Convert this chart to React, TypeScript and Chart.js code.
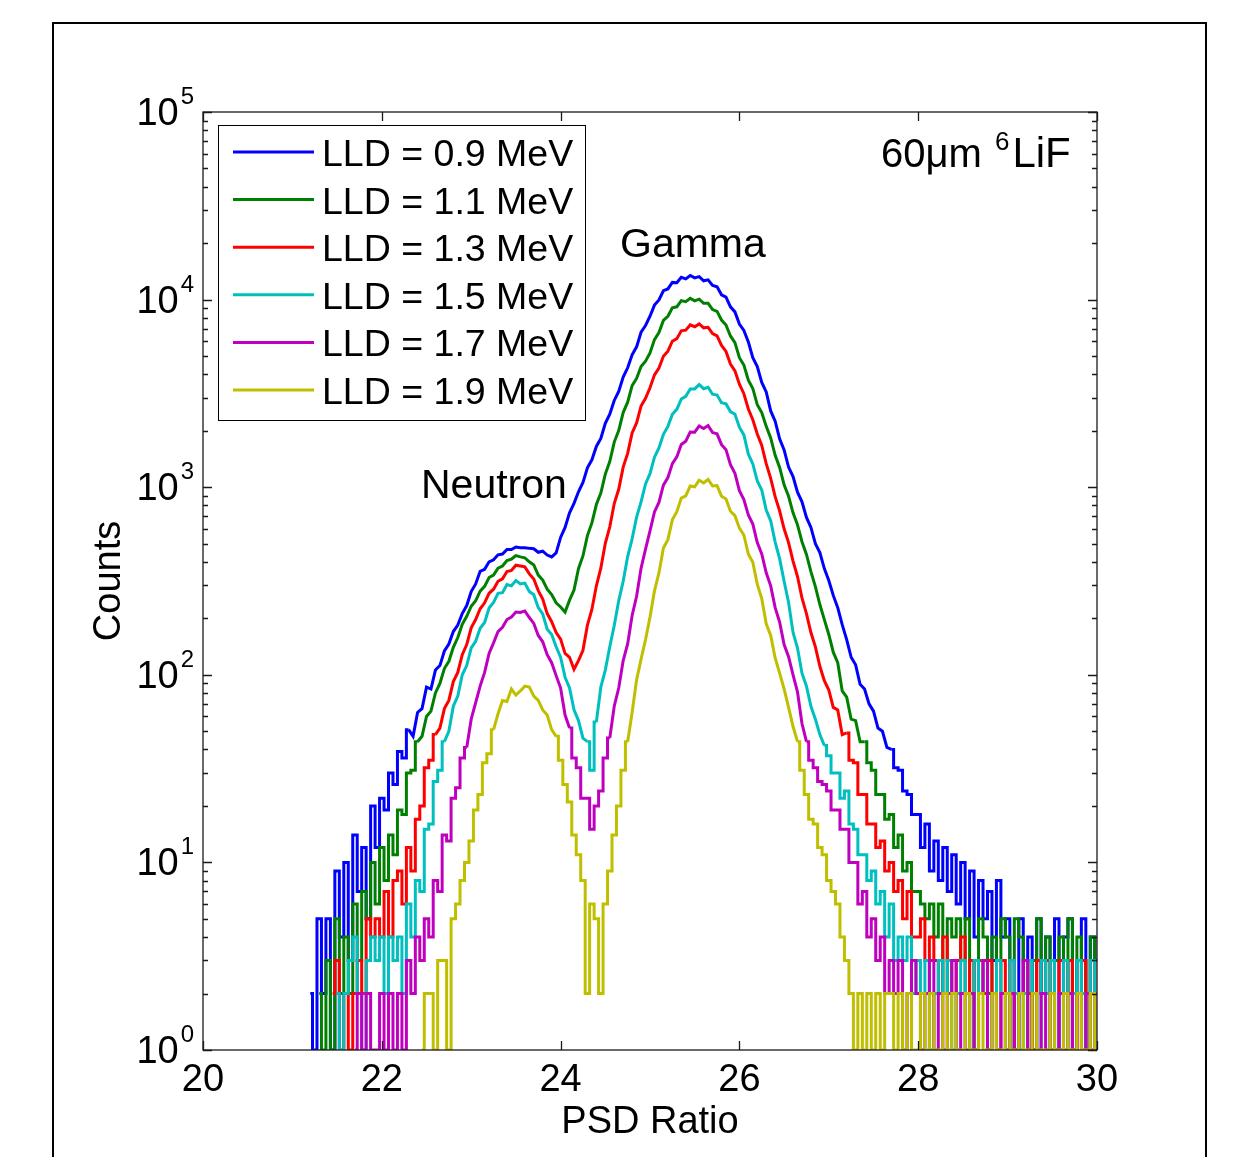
import { useEffect, useRef } from "react";
import { Chart, registerables } from "chart.js";

Chart.register(...registerables);

// ---------------- data ----------------
// histogram bins: centres from 21.00 to 30.00, width 0.05 (one row = one PSD unit)
const BIN_START = 21.0;
const BIN_WIDTH = 0.05;

const SERIES_LABELS = [
  "LLD = 0.9 MeV",
  "LLD = 1.1 MeV",
  "LLD = 1.3 MeV",
  "LLD = 1.5 MeV",
  "LLD = 1.7 MeV",
  "LLD = 1.9 MeV",
];
const SERIES_COLORS = ["#0000FF", "#008000", "#FF0000", "#00BFBF", "#BF00BF", "#BFBF00"];

const X_TICKS = [20, 22, 24, 26, 28, 30];
const Y_TICK_EXPONENTS = [0, 1, 2, 3, 4, 5];
const X_TITLE = "PSD Ratio";
const Y_TITLE = "Counts";
const PEAK_LABELS = ["Gamma", "Neutron"];
const SAMPLE_LABEL = { main: "60\u03bcm ", sup: "6", tail: "LiF" };

const COUNTS_LLD_09 = [
  0, 0, 0, 0, 2, 1, 5, 2, 5, 1, 9, 4, 10, 3, 14, 7, 12, 5, 20, 12,
  22, 19, 30, 26, 39, 36, 51, 47, 63, 66, 86, 84, 106, 112, 134, 146, 170, 184, 212, 234,
  278, 305, 356, 365, 400, 410, 436, 440, 466, 465, 480, 476, 476, 472, 470, 450, 456, 435, 425, 446,
  540, 610, 730, 820, 945, 1060, 1270, 1400, 1650, 1820, 2190, 2450, 2900, 3240, 3860, 4330, 5080, 5600, 6700, 7280,
  8150, 9350, 9950, 11150, 11400, 12350, 12300, 13150, 12900, 13450, 13050, 13250, 12600, 12750, 11900, 11700, 10600, 10300, 9150, 8600,
  7400, 6850, 5950, 4900, 4400, 3620, 3220, 2550, 2250, 1810, 1580, 1280, 1140, 940, 835, 690, 610, 500, 448, 368,
  318, 265, 228, 185, 154, 124, 113, 89, 84, 70, 64, 52, 50, 41, 40, 32, 31, 24, 23, 18,
  18, 12, 16, 9, 13, 8, 12, 7, 11, 6, 10, 5, 9, 4, 8, 5, 7, 3, 8, 4,
  5, 3, 1, 5, 2, 4, 1, 5, 2, 4, 3, 5, 1, 4, 5, 2, 3, 5, 1, 4,
  3,
];
const COUNTS_LLD_11 = [
  0, 0, 0, 0, 0, 0, 2, 1, 3, 1, 5, 2, 4, 2, 6, 3, 7, 5, 10, 6,
  12, 8, 14, 11, 19, 18, 30, 31, 44, 47, 60, 64, 80, 90, 108, 118, 140, 158, 186, 205,
  232, 248, 279, 296, 330, 340, 370, 380, 406, 414, 432, 425, 420, 400, 385, 340, 320, 286, 268, 242,
  230, 216, 250, 283, 368, 430, 552, 645, 808, 930, 1175, 1370, 1740, 2005, 2500, 2840, 3480, 3800, 4400, 4700,
  5200, 6120, 6680, 7750, 8150, 9050, 9150, 9880, 9750, 10150, 9850, 10050, 9550, 9550, 8850, 8650, 7780, 7320, 6400, 5900,
  4900, 4480, 3720, 3360, 2750, 2500, 2110, 1830, 1480, 1275, 1030, 895, 730, 630, 512, 438, 355, 295, 237, 197,
  164, 132, 116, 82, 76, 58, 57, 44, 44, 34, 31, 23, 23, 17, 18, 12, 14, 9, 10, 7,
  7, 6, 5, 6, 4, 6, 2, 5, 4, 5, 3, 5, 1, 3, 5, 4, 2, 4, 3, 5,
  4, 1, 5, 4, 3, 1, 3, 5, 2, 4, 1, 3, 4, 2, 5, 1, 4, 3, 1, 4,
  3,
];
const COUNTS_LLD_13 = [
  0, 0, 0, 0, 0, 0, 0, 0, 0, 2, 3, 1, 2, 1, 2, 3, 2, 5, 4, 5,
  4, 7, 4, 8, 9, 6, 12, 9, 17, 20, 32, 35, 48, 52, 66, 73, 92, 103, 128, 145,
  178, 197, 225, 242, 272, 286, 315, 325, 355, 360, 384, 380, 376, 345, 324, 281, 253, 212, 192, 168,
  155, 130, 124, 107, 119, 135, 184, 223, 298, 370, 502, 615, 818, 975, 1280, 1515, 1945, 2200, 2710, 2980,
  3390, 3970, 4320, 4990, 5310, 6000, 6190, 6820, 6870, 7330, 7170, 7420, 7070, 7120, 6590, 6400, 5700, 5290, 4530, 4170,
  3540, 3150, 2610, 2290, 1920, 1670, 1335, 1115, 890, 748, 600, 507, 404, 334, 257, 212, 168, 141, 111, 93,
  83, 67, 65, 48, 49, 35, 34, 23, 23, 16, 16, 12, 13, 9, 10, 7, 8, 5, 7, 4,
  4, 5, 3, 4, 3, 2, 4, 3, 2, 3, 4, 2, 3, 1, 3, 2, 3, 2, 1, 3,
  2, 3, 1, 2, 3, 2, 1, 3, 2, 3, 2, 1, 3, 2, 3, 1, 2, 3, 1, 3,
  2,
];
const COUNTS_LLD_15 = [
  0, 0, 0, 0, 0, 0, 0, 0, 0, 0, 2, 1, 2, 3, 4, 2, 1, 3, 4, 3,
  4, 2, 4, 3, 4, 2, 6, 4, 8, 7, 15, 16, 27, 31, 44, 50, 68, 77, 100, 112,
  139, 151, 177, 190, 227, 243, 272, 274, 303, 298, 318, 305, 308, 278, 267, 228, 211, 175, 164, 141,
  124, 97, 85, 65, 57, 46, 44, 31, 56, 86, 106, 141, 183, 248, 315, 427, 530, 692, 835, 1040,
  1180, 1445, 1620, 1915, 2110, 2445, 2600, 2950, 3050, 3340, 3340, 3520, 3350, 3410, 3130, 3100, 2820, 2780, 2530, 2450,
  2090, 1900, 1500, 1330, 1080, 965, 755, 662, 510, 416, 315, 243, 168, 139, 102, 87, 68, 58, 48, 42,
  37, 30, 30, 22, 24, 16, 15, 11, 11, 8, 9, 6, 7, 4, 6, 3, 4, 3, 4, 2,
  3, 2, 3, 1, 2, 3, 2, 3, 1, 2, 3, 2, 1, 3, 2, 3, 1, 2, 3, 2,
  1, 3, 2, 1, 2, 3, 2, 1, 3, 2, 3, 1, 2, 3, 1, 2, 3, 2, 1, 3,
  2,
];
const COUNTS_LLD_17 = [
  0, 0, 0, 0, 0, 0, 0, 0, 0, 0, 0, 0, 0, 0, 1, 2, 1, 2, 1, 1,
  2, 1, 2, 1, 2, 1, 3, 2, 4, 3, 5, 4, 8, 7, 14, 13, 22, 25, 36, 41,
  58, 71, 87, 103, 130, 148, 170, 179, 197, 203, 216, 215, 219, 202, 188, 162, 150, 128, 116, 99,
  85, 61, 52, 36, 32, 22, 22, 15, 20, 24, 36, 46, 68, 85, 119, 146, 207, 262, 370, 468,
  585, 738, 830, 1025, 1125, 1335, 1450, 1690, 1760, 1970, 1965, 2120, 2055, 2130, 1955, 1925, 1685, 1585, 1320, 1185,
  958, 860, 712, 636, 507, 441, 350, 298, 228, 191, 145, 125, 100, 81, 55, 44, 35, 32, 27, 26,
  24, 19, 19, 15, 15, 10, 10, 6, 7, 4, 5, 3, 4, 2, 3, 2, 3, 1, 2, 3,
  2, 1, 2, 3, 1, 2, 1, 2, 3, 1, 2, 1, 2, 1, 2, 3, 1, 2, 1, 2,
  1, 2, 1, 2, 3, 1, 2, 1, 2, 1, 2, 1, 2, 1, 2, 1, 2, 1, 2, 1,
  2,
];
const COUNTS_LLD_19 = [
  0, 0, 0, 0, 0, 0, 0, 0, 0, 0, 0, 0, 0, 0, 0, 0, 0, 0, 0, 0,
  0, 0, 0, 0, 0, 0, 0, 0, 0, 1, 2, 2, 1, 3, 3, 1, 5, 6, 8, 10,
  13, 19, 23, 34, 38, 51, 62, 73, 72, 84, 78, 82, 87, 86, 77, 73, 65, 61, 51, 47,
  35, 26, 21, 14, 11, 8, 2, 6, 5, 2, 6, 9, 14, 20, 31, 44, 63, 94, 121, 154,
  203, 280, 349, 474, 525, 670, 740, 875, 898, 1015, 1005, 1090, 1055, 1100, 1015, 1020, 895, 865, 745, 705,
  605, 556, 440, 398, 304, 255, 187, 162, 123, 102, 84, 67, 53, 44, 31, 23, 17, 16, 12, 11,
  8, 7, 6, 4, 3, 2, 1, 2, 1, 2, 1, 2, 1, 2, 2, 1, 2, 1, 2, 1,
  1, 2, 1, 2, 1, 1, 2, 1, 2, 1, 1, 2, 1, 1, 2, 1, 1, 2, 1, 1,
  2, 1, 1, 2, 1, 1, 2, 1, 1, 1, 2, 1, 1, 2, 1, 1, 2, 1, 1, 2,
  1,
];

const SERIES_COUNTS = [
  COUNTS_LLD_09,
  COUNTS_LLD_11,
  COUNTS_LLD_13,
  COUNTS_LLD_15,
  COUNTS_LLD_17,
  COUNTS_LLD_19,
];

// counts below this are drawn as histogram steps, above it as a traced line
const STEP_THRESHOLD = 40;

// ---------------- drawing ----------------
const FONT = '"Liberation Sans", Arial, Helvetica, sans-serif';
const W = 1241;
const H = 1157;

const backgroundPlugin = {
  id: "whiteBackground",
  beforeDraw(chart: any) {
    const ctx = chart.ctx;
    ctx.save();
    ctx.fillStyle = "#ffffff";
    ctx.fillRect(0, 0, chart.width, chart.height);
    ctx.restore();
  },
};

const axesPlugin = {
  id: "matlabAxes",
  afterDatasetsDraw(chart: any) {
    const ctx: CanvasRenderingContext2D = chart.ctx;
    const xs = chart.scales.x;
    const ys = chart.scales.y;
    const { left, right, top, bottom } = chart.chartArea;
    ctx.save();

    ctx.strokeStyle = "#1a1a1a";
    ctx.lineWidth = 1.3;
    ctx.strokeRect(left, top, right - left, bottom - top);

    ctx.beginPath();
    for (const t of X_TICKS) {
      const px = Math.round(xs.getPixelForValue(t)) + 0.5;
      ctx.moveTo(px, bottom);
      ctx.lineTo(px, bottom - 9);
      ctx.moveTo(px, top);
      ctx.lineTo(px, top + 9);
    }
    for (const e of Y_TICK_EXPONENTS) {
      for (let m = 1; m <= 9; m++) {
        const v = m * Math.pow(10, e);
        if (v > ys.max) break;
        const py = Math.round(ys.getPixelForValue(v)) + 0.5;
        const len = m === 1 ? 9 : 5;
        ctx.moveTo(left, py);
        ctx.lineTo(left + len, py);
        ctx.moveTo(right, py);
        ctx.lineTo(right - len, py);
      }
    }
    ctx.stroke();

    ctx.fillStyle = "#000000";
    ctx.textBaseline = "alphabetic";
    ctx.font = `38px ${FONT}`;
    ctx.textAlign = "center";
    for (const t of X_TICKS) {
      ctx.fillText(String(t), xs.getPixelForValue(t), bottom + 41);
    }
    for (const e of Y_TICK_EXPONENTS) {
      const py = ys.getPixelForValue(Math.pow(10, e));
      ctx.font = `24px ${FONT}`;
      ctx.textAlign = "left";
      const supW = ctx.measureText(String(e)).width;
      const supX = left - 9 - supW;
      ctx.fillText(String(e), supX, py - 8);
      ctx.font = `38px ${FONT}`;
      ctx.textAlign = "right";
      ctx.fillText("10", supX - 2, py + 13);
    }

    ctx.font = `38px ${FONT}`;
    ctx.textAlign = "center";
    ctx.fillText(X_TITLE, (left + right) / 2, bottom + 83);
    ctx.save();
    ctx.translate(left - 83, (top + bottom) / 2);
    ctx.rotate(-Math.PI / 2);
    ctx.fillText(Y_TITLE, 0, 0);
    ctx.restore();

    ctx.restore();
  },
};

const annotationPlugin = {
  id: "annotationsAndLegend",
  afterDraw(chart: any) {
    const ctx: CanvasRenderingContext2D = chart.ctx;
    const { left, top } = chart.chartArea;
    ctx.save();
    ctx.fillStyle = "#000";
    ctx.textBaseline = "alphabetic";
    ctx.textAlign = "left";

    ctx.font = `41px ${FONT}`;
    ctx.fillText(PEAK_LABELS[0], 620, 257);
    ctx.fillText(PEAK_LABELS[1], 421, 498);

    const base = 167;
    ctx.font = `40px ${FONT}`;
    ctx.fillText(SAMPLE_LABEL.main, 881, base);
    let x = 881 + ctx.measureText(SAMPLE_LABEL.main).width + 2;
    ctx.font = `26px ${FONT}`;
    ctx.fillText(SAMPLE_LABEL.sup, x, base - 17);
    x += ctx.measureText(SAMPLE_LABEL.sup).width + 3;
    ctx.font = `42px ${FONT}`;
    ctx.fillText(SAMPLE_LABEL.tail, x, base);

    // legend (one entry per series)
    const lx = left + 15;
    const ly = top + 13;
    const lw = 367;
    const lh = 295;
    ctx.fillStyle = "#ffffff";
    ctx.fillRect(lx, ly, lw, lh);
    ctx.strokeStyle = "#000";
    ctx.lineWidth = 1;
    ctx.strokeRect(lx + 0.5, ly + 0.5, lw, lh);
    const entries = chart.data.datasets.filter((ds: any) => ds.isLegendEntry);
    entries.forEach((ds: any, i: number) => {
      const yy = ly + 27 + i * 47.6;
      ctx.strokeStyle = ds.borderColor;
      ctx.lineWidth = 3;
      ctx.beginPath();
      ctx.moveTo(lx + 15, yy);
      ctx.lineTo(lx + 96, yy);
      ctx.stroke();
      ctx.fillStyle = "#000";
      ctx.font = `37.5px ${FONT}`;
      ctx.fillText(ds.label, lx + 104, yy + 14);
    });

    ctx.strokeStyle = "#000";
    ctx.lineWidth = 2;
    ctx.strokeRect(53, 23, 1153, 1300);
    ctx.restore();
  },
};

export default function App() {
  const canvasRef = useRef<HTMLCanvasElement | null>(null);

  useEffect(() => {
    if (!canvasRef.current) return;
    const binX = (k: number) => Math.round((BIN_START + k * BIN_WIDTH) * 100) / 100;
    const datasets: any[] = [];
    SERIES_COUNTS.forEach((counts, i) => {
      const isCore = counts.map((c) => c >= STEP_THRESHOLD);
      // traced line through the well-populated bins
      datasets.push({
        label: SERIES_LABELS[i],
        isLegendEntry: true,
        data: counts.map((c, k) => ({ x: binX(k), y: isCore[k] ? c : null })),
        borderColor: SERIES_COLORS[i],
        backgroundColor: SERIES_COLORS[i],
        borderWidth: 3,
        pointRadius: 0,
        stepped: false,
        spanGaps: false,
        fill: false,
        order: SERIES_COUNTS.length - 1 - i,
      });
      // histogram steps through the sparse bins (plus their joining neighbours)
      datasets.push({
        label: SERIES_LABELS[i],
        isLegendEntry: false,
        data: counts.map((c, k) => {
          const near =
            !isCore[k] || (k > 0 && !isCore[k - 1]) || (k < counts.length - 1 && !isCore[k + 1]);
          return { x: binX(k), y: c > 0 && near ? c : null };
        }),
        borderColor: SERIES_COLORS[i],
        backgroundColor: SERIES_COLORS[i],
        borderWidth: 3,
        pointRadius: 0,
        stepped: "middle",
        spanGaps: false,
        fill: false,
        order: SERIES_COUNTS.length - 1 - i,
      });
    });

    const chart = new Chart(canvasRef.current, {
      type: "line",
      data: { datasets },
      options: {
        responsive: false,
        animation: false,
        events: [],
        layout: { padding: { left: 203, right: W - 1097, top: 112, bottom: H - 1050 } },
        plugins: { legend: { display: false }, tooltip: { enabled: false } },
        scales: {
          x: { type: "linear", min: 20, max: 30, display: false },
          y: { type: "logarithmic", min: 1, max: 100000, display: false },
        },
      },
      plugins: [backgroundPlugin, axesPlugin, annotationPlugin],
    });
    return () => chart.destroy();
  }, []);

  return (
    <div style={{ position: "absolute", left: 0, top: 0, width: W, height: H, background: "#fff" }}>
      <canvas ref={canvasRef} width={W} height={H} style={{ display: "block", width: W, height: H }} />
    </div>
  );
}
